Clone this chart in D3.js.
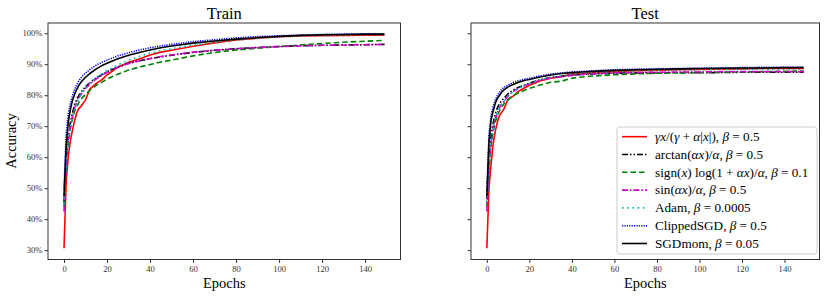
<!DOCTYPE html>
<html>
<head>
<meta charset="utf-8">
<script src="https://cdn.jsdelivr.net/npm/d3@7"></script>
<style>
body { margin: 0; background: #fff; }
text { font-family: "Liberation Serif", "DejaVu Serif", serif; }
</style>
</head>
<body>
<svg id="chart" width="830" height="296"></svg>
<script>
var epochs = [0,1,2,3,4,5,6,7,8,10,12,15,18,20,25,30,35,40,45,50,60,70,80,90,100,110,120,130,140,149];

var yTicks = [30,40,50,60,70,80,90,100];
var xTicks = [0,20,40,60,80,100,120,140];

// train accuracy (%)
var trainRational = [30.6,52,60.5,65.5,69,72,74.5,75.8,76.5,78.5,82,83.8,85.2,86.6,89,90.6,91.7,93,93.9,94.5,95.8,96.9,97.8,98.4,98.9,99.1,99.2,99.3,99.4,99.4];
var trainArctan   = [45.5,60,67,71.5,74.5,77,78.8,80,81,82.8,84,85.6,86.8,87.6,89.1,90.3,91.1,91.8,92.4,92.9,93.8,94.5,95,95.4,95.7,96,96.1,96.2,96.3,96.4];
var trainSignLog  = [44,58,65,69.5,72.5,75,76.5,77.8,78.8,80.3,81.6,83.2,84.4,85.2,86.8,88.1,89.1,89.9,90.7,91.3,92.7,93.8,94.6,95.2,95.7,96.2,96.7,97.1,97.4,97.7];
var trainSin      = [42.5,58,66,70.5,73.5,76,78,79.3,80.3,82.2,83.6,85.3,86.6,87.4,89,90.2,91.1,91.8,92.5,93,93.9,94.5,95,95.4,95.7,95.9,96.1,96.2,96.3,96.4];
var trainAdam     = [45,58,65.5,70,73,75.5,77.5,79,80.5,82.5,84,85.8,87.1,88,89.8,91.3,92.5,93.6,94.4,95,96.2,97,97.8,98.3,98.8,99.1,99.3,99.4,99.5,99.5];
var trainClipped  = [50,67.5,74,77.5,80,82,83.5,84.8,85.7,87.2,88.3,89.7,90.7,91.3,92.7,93.7,94.6,95.3,95.9,96.4,97.3,97.9,98.5,98.9,99.2,99.4,99.6,99.7,99.8,99.8];
var trainSGDmom   = [47.5,64,71.5,75.5,78.5,80.5,82,83.3,84.3,85.8,87,88.5,89.7,90.3,91.8,92.9,93.8,94.6,95.3,95.9,96.8,97.5,98.1,98.6,99,99.3,99.5,99.6,99.7,99.7];

// test accuracy (%)
var testRational = [30.6,50,58,64.5,68.5,71.5,73.5,74.5,75.5,78.8,79.5,81.3,82.5,83.2,84.6,85.5,86,86.8,87,87.2,87.6,87.9,88,88.2,88.3,88.4,88.5,88.6,88.6,88.6];
var testArctan   = [46.5,60,67,71,74,76,77.3,78.3,79,80.5,81.5,82.6,83.4,83.9,85,85.7,86.1,86.5,86.7,86.9,87.1,87.2,87.2,87.3,87.3,87.3,87.4,87.4,87.4,87.4];
var testSignLog  = [44,57,64,68.5,71.5,73.5,75,76.2,77.2,78.5,79.7,80.8,81.7,82.2,83.3,84.2,84.5,85.5,85.9,86.2,86.6,86.9,87.1,87.2,87.3,87.4,87.5,87.6,87.7,87.8];
var testSin      = [42.5,57,64.5,69.5,72.5,74.5,76,77.2,78,79.8,81,82.3,83.1,83.6,84.8,85.6,86,86.4,86.7,86.9,87.2,87.3,87.4,87.5,87.5,87.6,87.6,87.6,87.6,87.6];
var testAdam     = [45.5,58,65,69.5,72.5,74.5,76,77,78,79.8,81,82.4,83.3,83.8,85,85.8,86.3,86.8,87.1,87.3,87.7,87.9,88,88.1,88.2,88.3,88.3,88.4,88.4,88.4];
var testClipped  = [49,67,73.5,76.5,78.5,80,81,82,82.5,83.3,84,84.7,85.2,85.5,86.2,86.8,87.2,87.5,87.7,87.9,88.2,88.4,88.5,88.6,88.7,88.8,88.9,89,89,89];
var testSGDmom   = [47.3,65,72,75,77.5,79,80,81,81.7,82.7,83.4,84.2,84.8,85.1,85.9,86.5,87,87.3,87.5,87.7,88,88.2,88.4,88.5,88.6,88.7,88.8,88.8,88.9,88.9];

var styles = [
	{color:"#ff0000", dash:null},
	{color:"#000000", dash:"6,2,1.5,2,1.5,2"},
	{color:"#008000", dash:"5.5,3"},
	{color:"#cc00cc", dash:"6,2,1.5,2"},
	{color:"#00bfbf", dash:"1.6,3.6"},
	{color:"#0000ff", dash:"1.2,1.2"},
	{color:"#000000", dash:null}
];

var svg = d3.select("#chart");

var y = d3.scaleLinear().domain([27.0, 103.3]).range([259.5, 23]);

function panel(x0, x1, title, series, showY){
	var x = d3.scaleLinear().domain([-7.45, 156.45]).range([x0, x1]);
	var g = svg.append("g");

	var line = d3.line()
		.x(function(d){ return x(d[0]); })
		.y(function(d){ return y(d[1]); });

	series.forEach(function(vals, i){
		var pts = epochs.map(function(e, j){ return [e, vals[j]]; });
		g.append("path")
			.attr("d", line(pts))
			.attr("fill", "none")
			.attr("stroke", styles[i].color)
			.attr("stroke-width", 1.6)
			.attr("stroke-dasharray", styles[i].dash)
			.attr("stroke-linejoin", "round");
	});

	var xaxis = d3.axisBottom(x).tickValues(xTicks).tickSize(3.5).tickPadding(3);
	var gx = g.append("g").attr("transform", "translate(0,259.5)").call(xaxis);
	var yaxis = d3.axisLeft(y).tickValues(yTicks).tickSize(3.5).tickPadding(2)
		.tickFormat(function(d){ return showY ? d + "%" : ""; });
	var gy = g.append("g").attr("transform", "translate(" + x0 + ",0)").call(yaxis);
	[gx, gy].forEach(function(a){
		a.select(".domain").remove();
		a.selectAll("line").attr("stroke", "#333");
		a.selectAll("text").attr("fill", "#333").style("font-size", "8.6px")
			.style("font-family", "'Liberation Serif', serif");
	});

	g.append("rect")
		.attr("x", x0).attr("y", 23)
		.attr("width", x1 - x0).attr("height", 259.5 - 23)
		.attr("fill", "none").attr("stroke", "#333").attr("stroke-width", 1);

	g.append("text")
		.attr("x", (x0 + x1) / 2).attr("y", 19)
		.attr("text-anchor", "middle").style("font-size", "16.5px")
		.text(title);
	g.append("text")
		.attr("x", (x0 + x1) / 2).attr("y", 288)
		.attr("text-anchor", "middle").style("font-size", "14.5px")
		.text("Epochs");
	return g;
}

panel(48, 400.5, "Train",
	[trainRational, trainArctan, trainSignLog, trainSin, trainAdam, trainClipped, trainSGDmom], true);
panel(471, 819.5, "Test",
	[testRational, testArctan, testSignLog, testSin, testAdam, testClipped, testSGDmom], false);

svg.append("text")
	.attr("transform", "translate(16,141) rotate(-90)")
	.attr("text-anchor", "middle").style("font-size", "14.5px")
	.text("Accuracy");

// legend
var labels = [
	[["γ","i"],["x","i"],["/(",""],["γ","i"],[" + ",""],["α","i"],["|",""],["x","i"],["|), ",""],["β","i"],[" = 0.5",""]],
	[["arctan(",""],["αx","i"],[")/",""],["α","i"],[", ",""],["β","i"],[" = 0.5",""]],
	[["sign(",""],["x","i"],[") log(1 + ",""],["αx","i"],[")/",""],["α","i"],[", ",""],["β","i"],[" = 0.1",""]],
	[["sin(",""],["αx","i"],[")/",""],["α","i"],[", ",""],["β","i"],[" = 0.5",""]],
	[["Adam, ",""],["β","i"],[" = 0.0005",""]],
	[["ClippedSGD, ",""],["β","i"],[" = 0.5",""]],
	[["SGDmom, ",""],["β","i"],[" = 0.05",""]]
];

var leg = svg.append("g");
leg.append("rect")
	.attr("x", 617).attr("y", 127).attr("width", 200).attr("height", 127)
	.attr("rx", 2.5).attr("fill", "#fff").attr("fill-opacity", 0.85)
	.attr("stroke", "#ccc").attr("stroke-width", 1);

labels.forEach(function(parts, i){
	var ly = 136.7 + i * 17.8;
	leg.append("line")
		.attr("x1", 622).attr("x2", 647).attr("y1", ly).attr("y2", ly)
		.attr("stroke", styles[i].color).attr("stroke-width", 1.6)
		.attr("stroke-dasharray", styles[i].dash);
	var t = leg.append("text")
		.attr("x", 655).attr("y", ly + 4.3)
		.style("font-size", "13.2px");
	parts.forEach(function(p){
		t.append("tspan").text(p[0]).style("font-style", p[1] ? "italic" : "normal");
	});
});
</script>
</body>
</html>
